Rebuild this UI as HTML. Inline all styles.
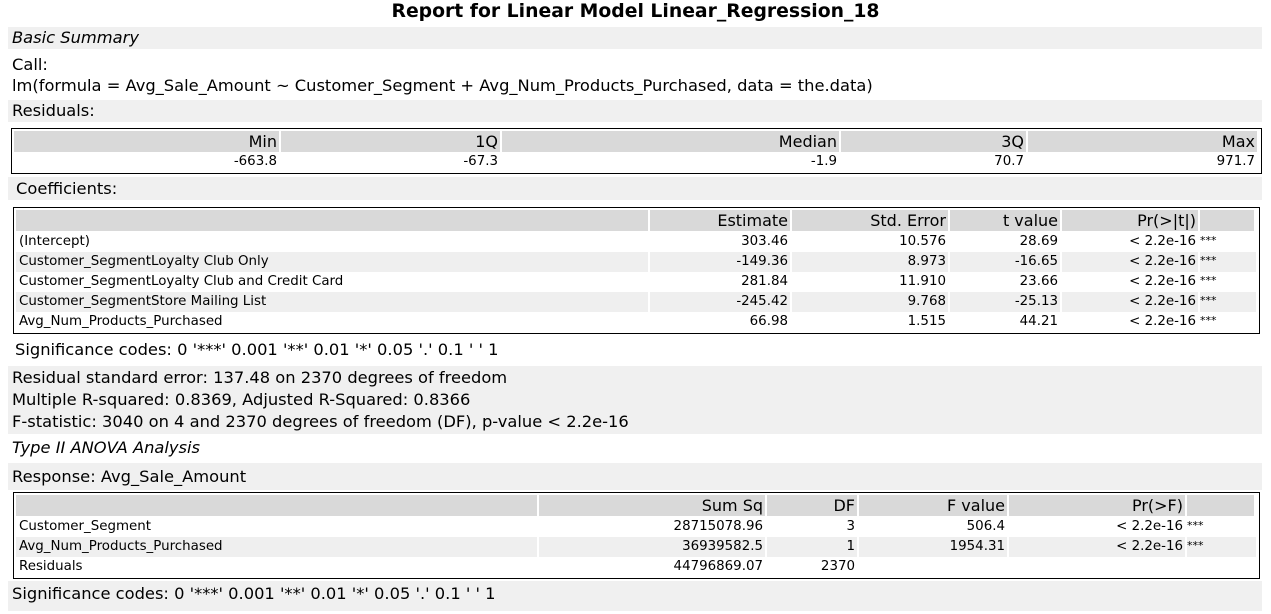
<!DOCTYPE html>
<html><head><meta charset="utf-8"><style>
*{margin:0;padding:0;box-sizing:border-box}
body{width:1271px;height:614px;background:#fff;font-family:"DejaVu Sans","Liberation Sans",sans-serif;color:#000;position:relative;overflow:hidden}
.a{position:absolute;white-space:nowrap}
.bar{position:absolute;left:8px;width:1254px;background:#f0f0f0}
.t{font-size:16.3px;line-height:20px}
.box{position:absolute;border:1px solid #000;background:#fff}
.c{position:absolute;font-size:13.4px;line-height:20px;text-align:right;padding-right:2px;white-space:nowrap}
.h{background:#d9d9d9;font-size:16px;line-height:21px}
.l{text-align:left;padding-left:3px}
.g{background:#efefef}
</style></head><body>
<div class="a" style="left:0;width:1271px;text-align:center;top:0px;font-weight:bold;font-size:18.8px;line-height:23px">Report for Linear Model Linear_Regression_18</div>
<div class="bar" style="top:27px;height:22px"></div>
<div class="a t" style="left:12px;top:28px;font-style:italic">Basic Summary</div>
<div class="a t" style="left:12px;top:55px">Call:</div>
<div class="a t" style="left:12px;top:76px">lm(formula = Avg_Sale_Amount ~ Customer_Segment + Avg_Num_Products_Purchased, data = the.data)</div>
<div class="bar" style="top:100px;height:22px"></div>
<div class="a t" style="left:12px;top:101px">Residuals:</div>
<div class="box" style="left:11px;top:128px;width:1251px;height:46px"></div>
<div class="bar" style="top:177px;height:23px"></div>
<div class="a t" style="left:16px;top:179px">Coefficients:</div>
<div class="box" style="left:13px;top:207px;width:1247px;height:127px"></div>
<div class="a t" style="left:15px;top:340px">Significance codes: 0 '***' 0.001 '**' 0.01 '*' 0.05 '.' 0.1 ' ' 1</div>
<div class="bar" style="top:366px;height:68px"></div>
<div class="a t" style="left:12px;top:368px">Residual standard error: 137.48 on 2370 degrees of freedom</div>
<div class="a t" style="left:12px;top:390px">Multiple R-squared: 0.8369, Adjusted R-Squared: 0.8366</div>
<div class="a t" style="left:12px;top:412px">F-statistic: 3040 on 4 and 2370 degrees of freedom (DF), p-value &lt; 2.2e-16</div>
<div class="a t" style="left:12px;top:438px;font-style:italic">Type II ANOVA Analysis</div>
<div class="bar" style="top:463px;height:27px"></div>
<div class="a t" style="left:12px;top:467px">Response: Avg_Sale_Amount</div>
<div class="box" style="left:13px;top:492px;width:1247px;height:87px"></div>
<div class="bar" style="top:581px;height:30px"></div>
<div class="a t" style="left:12px;top:584px">Significance codes: 0 '***' 0.001 '**' 0.01 '*' 0.05 '.' 0.1 ' ' 1</div>
<script>
const resHeaders=["Min","1Q","Median","3Q","Max"];
const resValues=["-663.8","-67.3","-1.9","70.7","971.7"];
const coefHeaders=["","Estimate","Std. Error","t value","Pr(>|t|)",""];
const coefRows=[
["(Intercept)","303.46","10.576","28.69","< 2.2e-16","***"],
["Customer_SegmentLoyalty Club Only","-149.36","8.973","-16.65","< 2.2e-16","***"],
["Customer_SegmentLoyalty Club and Credit Card","281.84","11.910","23.66","< 2.2e-16","***"],
["Customer_SegmentStore Mailing List","-245.42","9.768","-25.13","< 2.2e-16","***"],
["Avg_Num_Products_Purchased","66.98","1.515","44.21","< 2.2e-16","***"]];
const anovaHeaders=["","Sum Sq","DF","F value","Pr(>F)",""];
const anovaRows=[
["Customer_Segment","28715078.96","3","506.4","< 2.2e-16","***"],
["Avg_Num_Products_Purchased","36939582.5","1","1954.31","< 2.2e-16","***"],
["Residuals","44796869.07","2370","","",""]];
function cell(x,y,w,h,txt,cls,name){
  const d=document.createElement('div');
  d.className='c '+cls;
  d.style.left=x+'px';d.style.top=y+'px';d.style.width=w+'px';d.style.height=h+'px';
  d.textContent=txt;
  
  
  document.body.appendChild(d);
}
const resX=[14,281,502,841,1028,1259];
resHeaders.forEach((h,i)=>{
  cell(resX[i],131,resX[i+1]-resX[i]-2,21,h,'h','residuals-header-cell');
  cell(resX[i],152,resX[i+1]-resX[i]-2,20,resValues[i],'','residuals-value-cell');
});
function table(xs,headers,rows,top,prefix){
  headers.forEach((h,i)=>cell(xs[i],top,xs[i+1]-xs[i]-2,21,h,'h',prefix+'-header-cell'));
  rows.forEach((r,ri)=>{
    r.forEach((v,i)=>{
      let cls=(ri%2==1?'g ':'')+(i==0||i==5?'l':'');
      cell(xs[i],top+22+ri*20,xs[i+1]-xs[i]-(i==5?0:2),20,v,cls,prefix+'-cell');
    });
  });
}
table([16,650,792,950,1062,1200,1256],coefHeaders,coefRows,210,'coefficients');
table([16,539,767,859,1009,1187,1256],anovaHeaders,anovaRows,495,'anova');
document.querySelectorAll('.c').forEach(e=>{if(e.textContent==='***'){e.style.fontSize='11px';e.style.lineHeight='17px';e.style.paddingLeft='0px';}});
</script>
</body></html>
